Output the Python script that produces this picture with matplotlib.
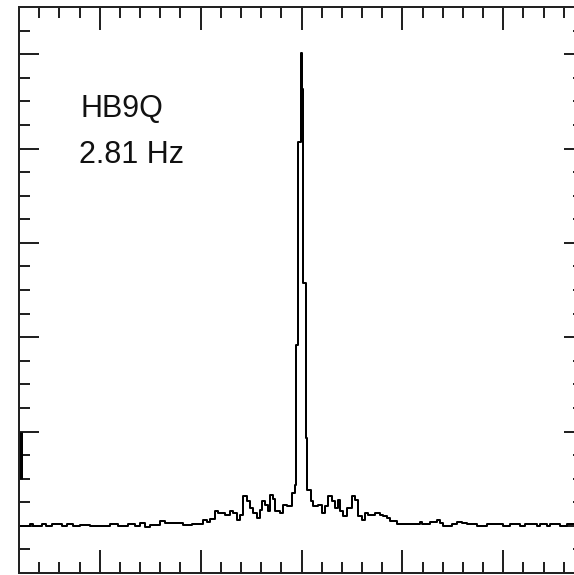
import matplotlib
matplotlib.use("Agg")
import matplotlib.pyplot as plt
import numpy as np
from matplotlib.ticker import MultipleLocator

# trace: left edge of each step (Hz offset) and level (arb. units)
freq = [-2.80, -2.688, -2.658, -2.569, -2.530, -2.470, -2.371, -2.322, -2.262, -2.193,
        -2.094, -1.896, -1.817, -1.718, -1.649, -1.599, -1.550, -1.500, -1.401, -1.351,
        -1.282, -1.173, -1.084, -1.005, -0.975, -0.936, -0.906, -0.856, -0.827, -0.757,
        -0.708, -0.678, -0.639, -0.609, -0.579, -0.540, -0.510, -0.480, -0.441, -0.411,
        -0.391, -0.361, -0.332, -0.312, -0.282, -0.262, -0.213, -0.183, -0.144, -0.094,
        -0.069, -0.050, -0.030, -0.008, 0.002, 0.018, 0.040, 0.054, 0.091, 0.117,
        0.166, 0.200, 0.233, 0.265, 0.299, 0.332, 0.364, 0.381, 0.414, 0.448,
        0.497, 0.530, 0.562, 0.596, 0.629, 0.661, 0.728, 0.777, 0.810, 0.844,
        0.876, 0.943, 1.173, 1.193, 1.272, 1.342, 1.371, 1.401, 1.441, 1.490,
        1.540, 1.589, 1.639, 1.738, 1.797, 1.837, 1.995, 2.064, 2.163, 2.213,
        2.332, 2.361, 2.431, 2.460, 2.559, 2.629, 2.80]
level = [0.000, 0.016, 0.000, 0.016, 0.000, 0.016, 0.000, 0.016, 0.000, 0.011,
         0.000, 0.016, 0.000, 0.016, 0.000, 0.032, -0.016, 0.005, 0.053, 0.032,
         0.027, 0.005, 0.016, 0.018, 0.064, 0.043, 0.074, 0.152, 0.138, 0.117,
         0.152, 0.135, 0.064, 0.117, 0.312, 0.259, 0.191, 0.138, 0.085, 0.170,
         0.259, 0.223, 0.152, 0.330, 0.287, 0.152, 0.135, 0.223, 0.205, 0.351,
         0.436, 1.915, 4.074, 5.011, 4.628, 2.574, 0.926, 0.383, 0.259, 0.205,
         0.223, 0.135, 0.205, 0.312, 0.259, 0.191, 0.277, 0.152, 0.099, 0.188,
         0.312, 0.277, 0.099, 0.064, 0.135, 0.117, 0.135, 0.117, 0.106, 0.085,
         0.046, 0.018, 0.039, 0.018, 0.039, 0.064, 0.027, 0.003, -0.007, 0.021,
         0.039, 0.029, 0.018, 0.003, -0.007, 0.018, 0.003, 0.018, 0.003, 0.018,
         0.003, 0.018, 0.003, 0.018, 0.003, 0.018, 0.018]

station = "HB9Q"
width_label = "2.81 Hz"
scale_bar = [0.5, 1.0]

px = 1 / 100 * 72  # one pixel in points at dpi 100

fig = plt.figure(figsize=(5.74, 5.75), dpi=100)
ax = fig.add_axes([19 / 574, 2 / 575, 565 / 574, 566 / 575])

ax.plot(freq, level, drawstyle="steps-post", color="black", lw=2 * px)

ax.set_xlim(-2.8, 2.8)
ax.set_ylim(-0.5, 5.5)

ax.xaxis.set_major_locator(MultipleLocator(1))
ax.xaxis.set_minor_locator(MultipleLocator(0.2))
ax.yaxis.set_major_locator(MultipleLocator(1))
ax.yaxis.set_minor_locator(MultipleLocator(0.25))

ax.tick_params(which="both", direction="in", top=True, right=True,
               labelbottom=False, labelleft=False, width=2 * px, color="#222222")
ax.tick_params(axis="x", which="major", length=23 * px)
ax.tick_params(axis="x", which="minor", length=11 * px)
ax.tick_params(axis="y", which="major", length=20 * px)
ax.tick_params(axis="y", which="minor", length=11 * px)

for s in ax.spines.values():
    s.set_linewidth(2 * px)
    s.set_color("#222222")

# little scale bar on the left axis
ax.plot([0.0027, 0.0027], scale_bar, color="black", lw=3 * px,
        transform=ax.get_yaxis_transform(), clip_on=False, solid_capstyle="butt")

ax.text(0.108, 0.805, station, transform=ax.transAxes, fontsize=22,
        family="Liberation Sans", color="#111111", ha="left", va="baseline")
ax.text(0.106, 0.7235, width_label, transform=ax.transAxes, fontsize=22,
        family="Liberation Sans", color="#111111", ha="left", va="baseline")

fig.savefig("out.png", dpi=100)
